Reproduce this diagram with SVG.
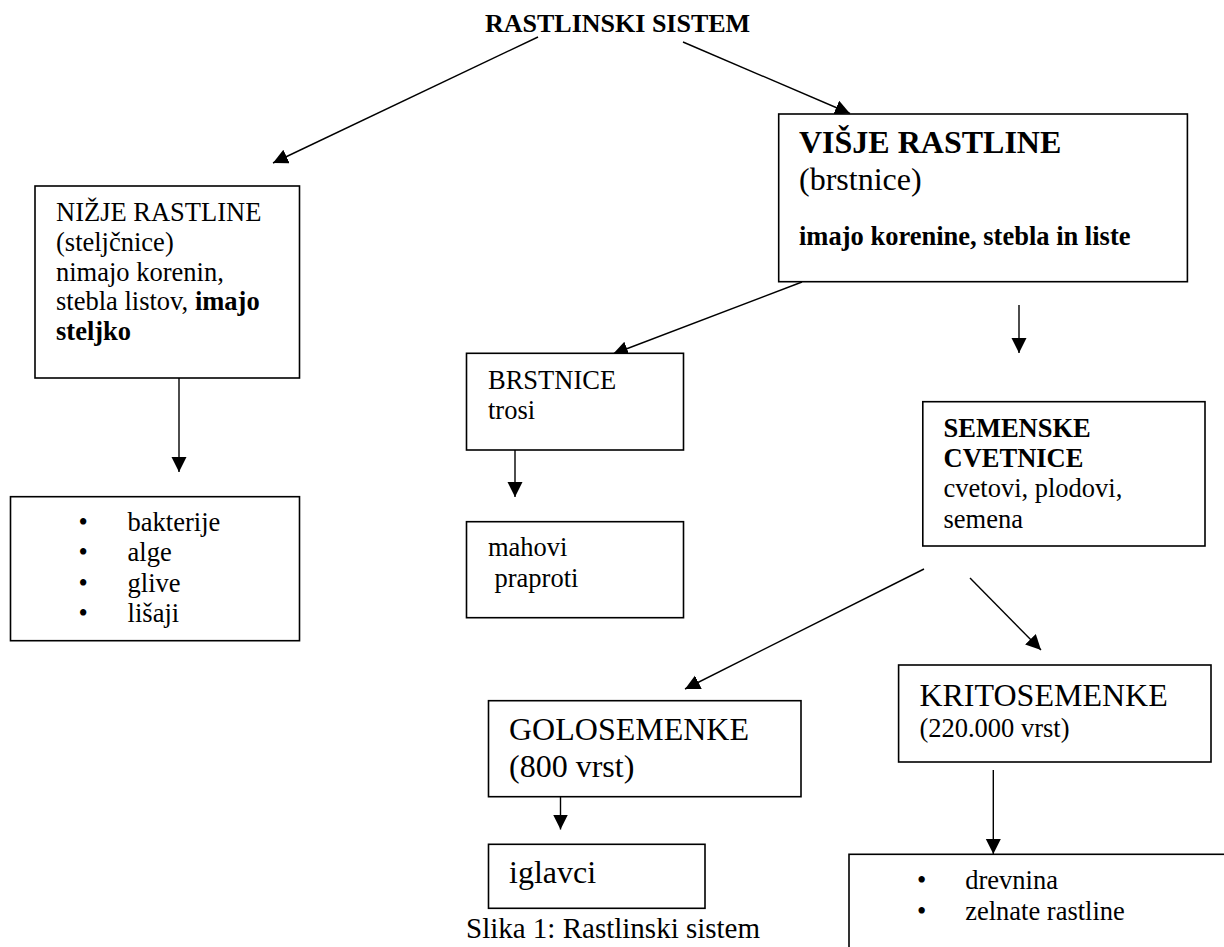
<svg xmlns="http://www.w3.org/2000/svg" width="1224" height="947" viewBox="0 0 1224 947">
<style>
text{font-family:"Liberation Serif","Times New Roman",serif;fill:#000}
.t{font-size:26.5px}
.b{font-weight:bold}
.l{font-size:32px}
.box{fill:#fff;stroke:#000;stroke-width:1.6}
.c{stroke:#000;stroke-width:1.4;fill:none;marker-end:url(#ah)}
</style>
<defs>
<marker id="ah" markerUnits="userSpaceOnUse" markerWidth="16" markerHeight="16" refX="15" refY="7.5" orient="auto">
<path d="M0,0 L15,7.5 L0,15 z" fill="#000"/>
</marker>
</defs>
<rect width="1224" height="947" fill="#fff"/>
<g id="title">
<text x="485" y="32" class="b" font-size="26px">RASTLINSKI SISTEM</text>
</g>
<g id="connectors">
<line class="c" x1="538" y1="37" x2="273" y2="163"/>
<line class="c" x1="683" y1="42" x2="850" y2="113.5"/>
<line class="c" x1="179" y1="378" x2="179" y2="472"/>
<line class="c" x1="802" y1="282" x2="613" y2="354"/>
<line class="c" x1="1019" y1="305" x2="1019" y2="353"/>
<line class="c" x1="515" y1="450" x2="515" y2="497"/>
<line class="c" x1="924" y1="569" x2="685" y2="689"/>
<line class="c" x1="970" y1="578" x2="1041" y2="650"/>
<line class="c" x1="560.5" y1="797" x2="560.5" y2="829.5"/>
<line class="c" x1="993.3" y1="770" x2="993.3" y2="854"/>
</g>
<g id="nizje">
<rect class="box" x="35" y="186" width="264.5" height="192"/>
<text class="t" x="56" y="221">NIŽJE RASTLINE</text>
<text class="t" x="56" y="250.8">(steljčnice)</text>
<text class="t" x="56" y="280.5">nimajo korenin,</text>
<text class="t" x="56" y="310.2">stebla listov, <tspan class="b">imajo</tspan></text>
<text class="t b" x="56" y="340">steljko</text>
</g>
<g id="nizje-list">
<rect class="box" x="10.5" y="496.7" width="289" height="144"/>
<text class="t" x="78.5" y="531">•</text>
<text class="t" x="78.5" y="561.3">•</text>
<text class="t" x="78.5" y="591.6">•</text>
<text class="t" x="78.5" y="622">•</text>
<text class="t" x="127.6" y="531">bakterije</text>
<text class="t" x="127.6" y="561.3">alge</text>
<text class="t" x="127.6" y="591.6">glive</text>
<text class="t" x="127.6" y="622">lišaji</text>
</g>
<g id="visje">
<rect class="box" x="778.7" y="114" width="408.7" height="167.7"/>
<text class="l b" x="799" y="153.3">VIŠJE RASTLINE</text>
<text class="l" x="799" y="190">(brstnice)</text>
<text class="t b" x="799" y="245">imajo korenine, stebla in liste</text>
</g>
<g id="brstnice">
<rect class="box" x="466.5" y="353.3" width="217" height="96.7"/>
<text class="t" x="488" y="389.3">BRSTNICE</text>
<text class="t" x="488" y="419.3">trosi</text>
</g>
<g id="mahovi">
<rect class="box" x="466.5" y="521.7" width="217" height="96"/>
<text class="t" x="488" y="556">mahovi</text>
<text class="t" x="494.5" y="586.7">praproti</text>
</g>
<g id="semenske">
<rect class="box" x="922.8" y="401.7" width="282.2" height="144.3"/>
<text class="t b" x="943.5" y="436.7">SEMENSKE</text>
<text class="t b" x="943.5" y="467.3">CVETNICE</text>
<text class="t" x="943.5" y="497.3">cvetovi, plodovi,</text>
<text class="t" x="943.5" y="527.7">semena</text>
</g>
<g id="golosemenke">
<rect class="box" x="488.5" y="700.7" width="312.5" height="96"/>
<text class="l" x="509" y="740">GOLOSEMENKE</text>
<text class="l" x="509" y="776.7">(800 vrst)</text>
</g>
<g id="iglavci">
<rect class="box" x="488.5" y="844.3" width="216.5" height="64"/>
<text class="l" x="509" y="883.3">iglavci</text>
</g>
<g id="kritosemenke">
<rect class="box" x="898.6" y="665" width="312.4" height="97"/>
<text class="l" x="919.4" y="706">KRITOSEMENKE</text>
<text class="t" x="919.4" y="736.7">(220.000 vrst)</text>
</g>
<g id="krito-list">
<rect class="box" x="849" y="854.3" width="420" height="200"/>
<text class="t" x="917" y="889">•</text>
<text class="t" x="917" y="920">•</text>
<text class="t" x="965.2" y="889">drevnina</text>
<text class="t" x="965.2" y="920">zelnate rastline</text>
</g>
<g id="caption">
<text x="466" y="938" font-size="29px">Slika 1: Rastlinski sistem</text>
</g>
</svg>
